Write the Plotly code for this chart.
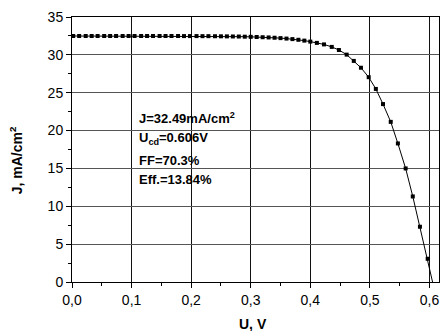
import plotly.graph_objects as go

# Voltage (V) and current density (mA/cm^2)
U = [0.002, 0.012, 0.023, 0.033, 0.043, 0.054, 0.064, 0.074, 0.085, 0.095,
     0.105, 0.116, 0.126, 0.136, 0.147, 0.157, 0.167, 0.178, 0.188, 0.198,
     0.209, 0.219, 0.229, 0.240, 0.250, 0.260, 0.270, 0.280, 0.290, 0.300,
     0.310, 0.320, 0.330, 0.340, 0.350, 0.360, 0.370, 0.380, 0.390, 0.400,
     0.411, 0.423, 0.436, 0.448, 0.461, 0.473, 0.485, 0.498, 0.510, 0.522,
     0.535, 0.547, 0.560, 0.572, 0.584, 0.597, 0.609]
J = [32.49, 32.49, 32.49, 32.49, 32.49, 32.49, 32.49, 32.49, 32.49, 32.49,
     32.49, 32.49, 32.49, 32.49, 32.49, 32.49, 32.49, 32.49, 32.48, 32.48,
     32.48, 32.47, 32.47, 32.46, 32.45, 32.44, 32.43, 32.42, 32.40, 32.38,
     32.36, 32.33, 32.30, 32.26, 32.21, 32.15, 32.08, 31.99, 31.88, 31.75,
     31.58, 31.38, 31.05, 30.64, 30.03, 29.20, 28.30, 27.05, 25.50, 23.50,
     21.15, 18.30, 15.00, 11.30, 7.30, 3.07, -1.30]

x_ticks = [0.0, 0.1, 0.2, 0.3, 0.4, 0.5, 0.6]
y_ticks = [0, 5, 10, 15, 20, 25, 30, 35]

info_lines = ["<b>J=32.49mA/cm<sup>2</sup></b>",
              "<b>U<sub>cd</sub>=0.606V</b>",
              "<b>FF=70.3%</b>",
              "<b>Eff.=13.84%</b>"]
info_y = [21.7, 18.9, 16.0, 13.6]

x_title = "<b>U, V</b>"
y_title = "<b>J, mA/cm<sup>2</sup></b>"

FONT = "Liberation Sans, Arial, sans-serif"

fig = go.Figure()
fig.add_trace(go.Scatter(
    x=U, y=J, mode="lines+markers",
    line=dict(color="black", width=1),
    marker=dict(symbol="square", size=4, color="black"),
    showlegend=False, cliponaxis=True,
))

for txt, yy in zip(info_lines, info_y):
    fig.add_annotation(x=0.109, y=yy, xref="x", yref="y", text=txt,
                       showarrow=False, xanchor="left", yanchor="middle",
                       font=dict(family=FONT, size=13, color="black"))

# axis titles placed as annotations for exact positioning
fig.add_annotation(x=0.493, y=-0.158, xref="paper", yref="paper", text=x_title,
                   showarrow=False, xanchor="center", yanchor="middle",
                   font=dict(family=FONT, size=14, color="black"))
fig.add_annotation(x=-0.152, y=0.46, xref="paper", yref="paper", text=y_title,
                   showarrow=False, xanchor="center", yanchor="middle", textangle=-90,
                   font=dict(family=FONT, size=14, color="black"))

axis_common = dict(
    showline=True, linecolor="black", linewidth=1, mirror=True,
    ticks="outside", ticklen=5, tickcolor="black", tickwidth=1,
    showgrid=True, gridwidth=1, zeroline=False, automargin=False,
    tickfont=dict(family=FONT, size=14, color="black"),
)

fig.update_xaxes(
    range=[0, 0.616], tickvals=x_ticks, tickformat=".1f",
    gridcolor="#111111",
    minor=dict(dtick=0.05, ticklen=3, tickcolor="black", ticks="outside", showgrid=False),
    **axis_common,
)
fig.update_yaxes(
    range=[0, 35], tickvals=y_ticks,
    gridcolor="#555555",
    minor=dict(dtick=2.5, ticklen=3, tickcolor="black", ticks="outside", showgrid=False),
    **axis_common,
)

fig.update_layout(
    width=442, height=331,
    margin=dict(l=72, r=3, t=17, b=49),
    plot_bgcolor="white", paper_bgcolor="white",
    separators=", ",
    font=dict(family=FONT, color="black"),
)

fig.write_html("out.html",
               config={"displayModeBar": False},
               post_script="document.body.style.margin='0';document.body.style.overflow='hidden';")
